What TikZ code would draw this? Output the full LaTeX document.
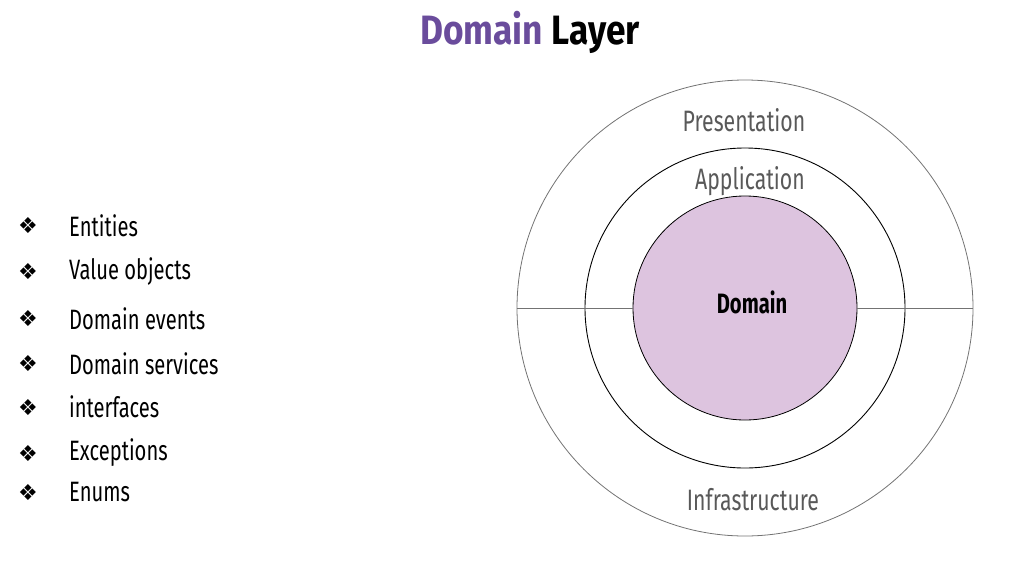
\documentclass[tikz,border=0pt]{standalone}
\usepackage{fontspec}
\setmainfont{Fira Sans}[FakeStretch=0.72]
\newfontfamily\titlefont{Fira Sans}[FakeStretch=0.86]
\newfontfamily\symfont{DejaVu Sans}
\usepackage{tikz}
\usepackage{xcolor}
\definecolor{ColTitle}{RGB}{106,76,156}
\definecolor{ColCore}{RGB}{221,196,223}
\definecolor{ColText}{RGB}{89,89,89}
\tikzstyle{RingLabel}=[text=ColText,font=\fontsize{29.5}{32}\selectfont,inner sep=0pt]
\tikzstyle{ItemText}=[anchor=west,font=\fontsize{28}{30}\selectfont,inner sep=0pt]
\tikzstyle{ItemMark}=[font=\symfont\fontsize{22}{24}\selectfont,inner sep=0pt]
\tikzstyle{OuterRing}=[draw=black!55,line width=0.8pt]

\begin{document}
\begin{tikzpicture}[x=1pt,y=-1pt]
        \useasboundingbox(0,0)rectangle(1022,565);
        % title
        \node[font=\titlefont\bfseries\fontsize{41}{44}\selectfont,inner sep=0pt](title)at(530,32)
            {\textcolor{ColTitle}{Domain} Layer};
        % rings
        \node[OuterRing,circle,minimum size=456pt,inner sep=0pt](pres)at(745,308){};
        \node[draw,circle,minimum size=320pt,inner sep=0pt,line width=0.9pt](app)at(745,308){};
        \node[draw,circle,fill=ColCore,minimum size=224pt,inner sep=0pt,line width=0.8pt](dom)at(745,308){};
        \draw[OuterRing](pres.west)--(dom.west);
        \draw[OuterRing](dom.east)--(pres.east);
        \node[RingLabel](presL)at(744,120){Presentation};
        \node[RingLabel](appL)at(750,181){Application};
        \node[RingLabel,text=black,font=\bfseries\fontsize{28}{30}\selectfont](domL)at(752,302){Domain};
        \node[RingLabel](infraL)at(753,500){Infrastructure};
        % list
        \node[ItemMark](m1)at(28,226){❖};
        \node[ItemText](t1)at(69,226){Entities};
        \node[ItemMark](m2)at(28,272){❖};
        \node[ItemText](t2)at(69,272){Value objects};
        \node[ItemMark](m3)at(28,319){❖};
        \node[ItemText](t3)at(69,319){Domain events};
        \node[ItemMark](m4)at(28,364){❖};
        \node[ItemText](t4)at(69,364){Domain services};
        \node[ItemMark](m5)at(28,408){❖};
        \node[ItemText](t5)at(69,407){interfaces};
        \node[ItemMark](m6)at(28,454){❖};
        \node[ItemText](t6)at(69,453){Exceptions};
        \node[ItemMark](m7)at(28,493){❖};
        \node[ItemText](t7)at(69,492){Enums};
    \end{tikzpicture}
\end{document}
